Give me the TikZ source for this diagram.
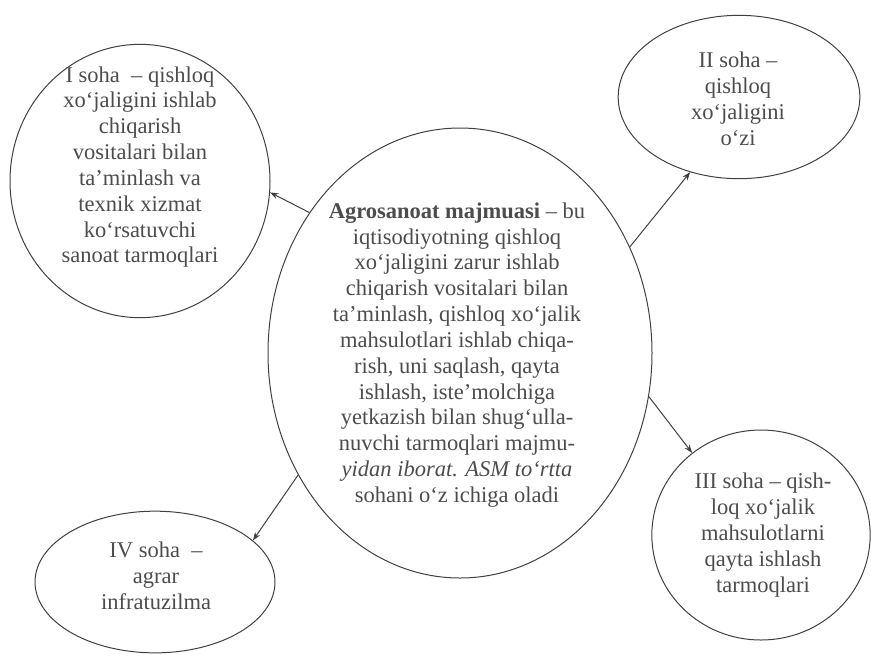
\documentclass[tikz,border=0pt]{standalone}
\usepackage{fontspec}
\setmainfont{Liberation Serif}
\usepackage{xcolor}
\usepackage{tikz}
\usetikzlibrary{arrows.meta,shapes.geometric}

\begin{document}
\begin{tikzpicture}[
    x=0.6pt,y=-0.6pt,
    >={Stealth[length=5pt,width=3.6pt]},
    font=\fontsize{13.5}{15.5}\selectfont,
    oval/.style={
        draw=black!75,
        line width=0.6pt,
        ellipse,
        inner sep=0pt
    },
    txt/.style={
        align=center,
        text=black!70,
        inner sep=0pt
    },
    link/.style={
        ->,
        draw=black!75,
        line width=0.6pt
    }
]

\useasboundingbox (0,0) rectangle (871,655);

% ellipses
\node[oval, minimum width=230.4pt, minimum height=270pt] (asm)   at (460,353) {};
\node[oval, minimum width=156pt,   minimum height=164pt] (soha1) at (140,181) {};
\node[oval, minimum width=145pt,   minimum height=98pt]  (soha2) at (739,97)  {};
\node[oval, minimum width=131pt,   minimum height=126pt] (soha3) at (761,535) {};
\node[oval, minimum width=144pt,   minimum height=85pt]  (soha4) at (155,582) {};

% texts
\node[txt] (asmtxt) at (457,355) {\textbf{Agrosanoat majmuasi} – bu\\
    iqtisodiyotning qishloq\\
    xo‘jaligini zarur ishlab\\
    chiqarish vositalari bilan\\
    ta’minlash, qishloq xo‘jalik\\
    mahsulotlari ishlab chiqa-\\
    rish, uni saqlash, qayta\\
    ishlash, iste’molchiga\\
    yetkazish bilan shug‘ulla-\\
    nuvchi tarmoqlari majmu-\\
    \textit{yidan iborat. ASM to‘rtta}\\
    sohani o‘z ichiga oladi};

\node[txt] (txt1) at (140,167) {I soha \ – qishloq\\
    xo‘jaligini ishlab\\
    chiqarish\\
    vositalari bilan\\
    ta’minlash va\\
    texnik xizmat\\
    ko‘rsatuvchi\\
    sanoat tarmoqlari};

\node[txt] (txt2) at (738,99) {II soha –\\ qishloq\\ xo‘jaligini\\ o‘zi};

\node[txt] (txt3) at (763,535) {III soha – qish-\\ loq xo‘jalik\\ mahsulotlarni\\ qayta ishlash\\ tarmoqlari};

\node[txt] (txt4) at (156,576) {IV soha \ –\\ agrar\\ infratuzilma};

% arrows
\draw[link] (asm.137.4) -- (soha1.-5);
\draw[link] (asm.32.6)  -- (soha2.237);
\draw[link] (asm.-13.7) -- (soha3.130.5);
\draw[link] (asm.217.3) -- (soha4.23.6);

\end{tikzpicture}
\end{document}
